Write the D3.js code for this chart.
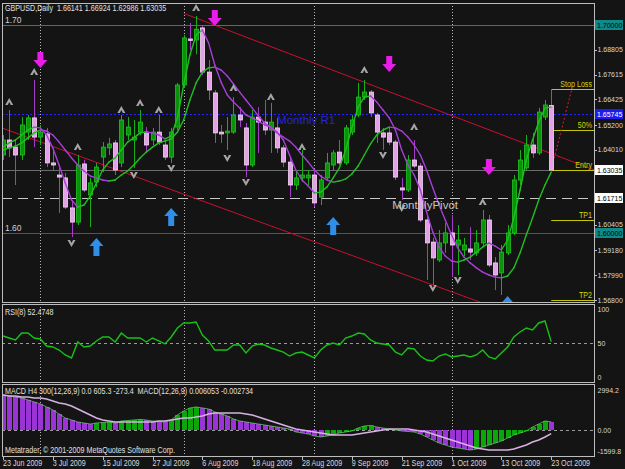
<!DOCTYPE html>
<html>
<head>
<meta charset="utf-8">
<script src="https://d3js.org/d3.v7.min.js"></script>
<style>
  body { margin: 0; background: #141414; }
  text { font-family: "Liberation Sans", Arial, sans-serif; }
</style>
</head>
<body>
<script>
// ---------- data ----------
// trading days, month by month
const monthDays = [
    ["2009-06", [23,24,25,26,29,30]],
    ["2009-07", [1,2,3,6,7,8,9,10,13,14,15,16,17,20,21,22,23,24,27,28,29,30,31]],
    ["2009-08", [3,4,5,6,7,10,11,12,13,14,17,18,19,20,21,24,25,26,27,28,31]],
    ["2009-09", [1,2,3,4,7,8,9,10,11,14,15,16,17,18,21,22,23,24,25,28,29,30]],
    ["2009-10", [1,2,5,6,7,8,9,12,13,14,15,16,19,20,21,22,23]]
];
const dates = monthDays.flatMap(([m, days]) => days.map(d => m + "-" + String(d).padStart(2, "0")));

const opens = [1.6376,1.6448,1.6414,1.6376,1.6486,1.6554,1.6462,1.6477,1.6338,1.6280,
    1.6266,1.6122,1.6054,1.6333,1.6184,1.6246,1.6366,1.6410,1.6434,1.6338,
    1.6472,1.6448,1.6486,1.6486,1.6448,1.6486,1.6424,1.6366,1.6510,1.6712,
    1.6933,1.6928,1.6986,1.6774,1.6674,1.6486,1.6482,1.6486,1.6568,1.6506,
    1.6328,1.6558,1.6534,1.6496,1.6506,1.6410,1.6342,1.6232,1.6266,1.6266,
    1.6280,1.6174,1.6266,1.6328,1.6390,1.6338,1.6486,1.6568,1.6654,1.6678,
    1.6568,1.6482,1.6482,1.6438,1.6218,1.6208,1.6352,1.6323,1.6064,1.5958,
    1.5872,1.5954,1.6002,1.5944,1.5920,1.5925,1.5906,1.5954,1.6064,1.5858,
    1.5810,1.5906,1.6002,1.6256,1.6314,1.6424,1.6386,1.6558,1.66141];
const highs = [1.6472,1.6592,1.6448,1.6558,1.6568,1.6736,1.6520,1.6506,1.6400,1.6318,
    1.6290,1.6160,1.6376,1.6352,1.6266,1.6338,1.6438,1.6458,1.6448,1.6568,
    1.6558,1.6544,1.6592,1.6510,1.6506,1.6568,1.6448,1.6506,1.6722,1.6952,
    1.7010,1.7043,1.7000,1.6832,1.6688,1.6520,1.6558,1.6654,1.6606,1.6530,
    1.6592,1.6606,1.6640,1.6626,1.6554,1.6424,1.6366,1.6304,1.6400,1.6304,
    1.6304,1.6280,1.6386,1.6400,1.6448,1.6520,1.6568,1.6722,1.6736,1.6688,
    1.6578,1.6506,1.6510,1.6448,1.6266,1.6376,1.6448,1.6338,1.6088,1.5978,
    1.6016,1.6050,1.6088,1.6040,1.5978,1.6030,1.6016,1.6112,1.6088,1.5886,
    1.5944,1.6040,1.6280,1.6400,1.6472,1.6482,1.6602,1.6640,1.66924];
const lows = [1.6352,1.6366,1.6232,1.6352,1.6448,1.6414,1.6424,1.6318,1.6304,1.6098,
    1.6117,1.5982,1.6040,1.6198,1.6030,1.6222,1.6294,1.6376,1.6280,1.6318,
    1.6448,1.6314,1.6472,1.6386,1.6424,1.6424,1.6352,1.6338,1.6496,1.6698,
    1.6880,1.6860,1.6760,1.6640,1.6434,1.6434,1.6400,1.6477,1.6510,1.6270,
    1.6318,1.6386,1.6472,1.6386,1.6386,1.6318,1.6174,1.6208,1.6246,1.6232,
    1.6126,1.6136,1.6256,1.6304,1.6328,1.6328,1.6472,1.6558,1.6640,1.6558,
    1.6434,1.6400,1.6424,1.6256,1.6160,1.6198,1.6314,1.6054,1.5776,1.5752,
    1.5862,1.5906,1.5790,1.5800,1.5891,1.5872,1.5891,1.5939,1.5838,1.5728,
    1.5704,1.5896,1.5992,1.6232,1.6304,1.6362,1.6376,1.6544,1.62986];
const closes = [1.6448,1.6410,1.6376,1.6520,1.6554,1.6462,1.6486,1.6338,1.6328,1.6270,
    1.6126,1.6054,1.6328,1.6208,1.6242,1.6318,1.6414,1.6429,1.6304,1.6544,
    1.6510,1.6462,1.6534,1.6424,1.6486,1.6438,1.6366,1.6486,1.6712,1.6938,
    1.6928,1.6980,1.6774,1.6688,1.6482,1.6477,1.6491,1.6568,1.6544,1.6328,
    1.6558,1.6534,1.6496,1.6534,1.6410,1.6342,1.6232,1.6266,1.6280,1.6280,
    1.6146,1.6256,1.6338,1.6386,1.6338,1.6506,1.6544,1.6654,1.6678,1.6578,
    1.6486,1.6462,1.6438,1.6270,1.6208,1.6352,1.6323,1.6064,1.5954,1.5882,
    1.5954,1.6002,1.5944,1.5968,1.5944,1.5910,1.5954,1.6064,1.5848,1.5800,
    1.5910,1.6002,1.6256,1.6352,1.6424,1.6386,1.6582,1.6616,1.63035];

// two moving averages, coloured by slope
const fastMA = [1.6414,1.6434,1.6448,1.6472,1.6496,1.6510,1.6506,1.6472,1.6410,1.6328,
    1.6242,1.6160,1.6126,1.6136,1.6179,1.6242,1.6304,1.6342,1.6362,1.6400,
    1.6438,1.6458,1.6482,1.6486,1.6482,1.6472,1.6453,1.6467,1.6554,1.6712,
    1.6856,1.6952,1.6976,1.6914,1.6808,1.6726,1.6664,1.6630,1.6602,1.6568,
    1.6554,1.6539,1.6520,1.6510,1.6486,1.6448,1.6376,1.6304,1.6256,1.6227,
    1.6194,1.6198,1.6222,1.6266,1.6314,1.6400,1.6506,1.6606,1.6654,1.6659,
    1.6630,1.6592,1.6554,1.6496,1.6400,1.6328,1.6280,1.6208,1.6102,1.6006,
    1.5934,1.5891,1.5867,1.5862,1.5872,1.5886,1.5910,1.5934,1.5954,1.5939,
    1.5920,1.5968,1.6074,1.6208,1.6352,1.6448,1.6534,1.6602,1.6606];
const slowMA = [1.6400,1.6410,1.6419,1.6434,1.6458,1.6482,1.6496,1.6491,1.6472,1.6438,
    1.6400,1.6362,1.6328,1.6299,1.6275,1.6266,1.6256,1.6251,1.6256,1.6280,
    1.6299,1.6328,1.6362,1.6390,1.6414,1.6434,1.6443,1.6453,1.6486,1.6544,
    1.6640,1.6722,1.6774,1.6794,1.6798,1.6784,1.6755,1.6717,1.6678,1.6640,
    1.6602,1.6563,1.6530,1.6506,1.6482,1.6462,1.6443,1.6414,1.6376,1.6342,
    1.6304,1.6275,1.6256,1.6246,1.6251,1.6261,1.6285,1.6323,1.6376,1.6429,
    1.6472,1.6496,1.6510,1.6506,1.6491,1.6462,1.6424,1.6376,1.6304,1.6218,
    1.6136,1.6064,1.5992,1.5930,1.5886,1.5858,1.5834,1.5814,1.5800,1.5790,
    1.5786,1.5795,1.5834,1.5906,1.5992,1.6074,1.6160,1.6232,1.6294];

const rsi8 = [60.7,57.8,54.9,65.1,65.1,57.8,56.3,46.0,44.6,40.1,
    32.8,28.4,51.9,44.6,46.0,53.4,59.3,59.3,51.9,65.1,
    57.8,57.8,57.8,51.9,57.8,53.4,49.0,59.3,72.5,79.9,
    79.9,81.3,62.2,53.4,40.1,40.1,40.1,47.5,47.5,35.7,
    46.0,49.0,47.5,43.1,40.1,37.1,31.3,35.7,37.1,32.8,
    28.4,40.1,47.5,50.4,47.5,57.8,60.7,65.1,63.7,54.9,
    50.4,49.0,47.5,37.1,32.8,43.1,41.6,31.3,25.4,24.0,
    31.3,34.3,29.9,31.3,32.8,29.9,32.8,40.1,29.9,27.0,
    35.7,44.6,59.3,66.6,72.5,69.6,79.9,82.8,52.4748];

const macdHist = [2625,2550,2475,2400,2250,2100,1950,1725,1500,1200,
    900,750,600,525,450,525,560,600,525,675,
    710,750,790,750,675,640,600,750,1125,1425,
    1650,1725,1650,1575,1350,1200,1050,825,675,600,
    525,450,375,300,225,150,75,-150,-225,-300,
    -450,-525,-450,-375,-225,-150,-75,150,300,340,
    225,150,75,0,-75,-110,-150,-300,-525,-750,
    -975,-1125,-1275,-1350,-1425,-1500,-1425,-1275,-1125,-975,
    -825,-600,-375,-225,-75,225,450,675,605.3];
const macdSignal = [2622,2547,2547,2472,2472,2397,2397,2322,2172,2022,
    1947,1798,1573,1348,1124,899,749,674,599,599,
    599,599,599,599,599,674,674,749,824,899,
    899,974,1049,1198,1273,1273,1273,1273,1273,1198,
    1124,974,824,674,524,375,225,75,0,-75,
    -150,-225,-300,-375,-375,-375,-375,-300,-225,-150,
    -75,0,75,75,75,75,0,-75,-150,-300,
    -449,-599,-749,-899,-1049,-1198,-1348,-1423,-1498,-1498,
    -1498,-1498,-1423,-1273,-1124,-899,-749,-524,-273.4];

const tickDates = ["2009-06-23","2009-07-03","2009-07-15","2009-07-27","2009-08-06","2009-08-18",
    "2009-08-28","2009-09-09","2009-09-21","2009-10-01","2009-10-13","2009-10-23"];
const tickLabels = ["23 Jun 2009","3 Jul 2009","15 Jul 2009","27 Jul 2009","6 Aug 2009","18 Aug 2009",
    "28 Aug 2009","9 Sep 2009","21 Sep 2009","1 Oct 2009","13 Oct 2009","23 Oct 2009"];
const monthStarts = ["2009-07-01","2009-08-03","2009-09-01","2009-10-01"];
const priceTicks = [1.68805,1.67615,1.66425,1.65200,1.64010,1.60405,1.59180,1.57990,1.56800];

// marked levels and objects
const markedLevels = [
    {price: 1.70,    label: "1.70000", line: "#0e8a8a", dash: null,   bg: "#10898a", fg: "#000"},
    {price: 1.65745, label: "1.65745", line: "#2222ff", dash: "2,2",  bg: "#1c1cf0", fg: "#fff"},
    {price: 1.63035, label: "1.63035", line: "#6c6c6c", dash: null,   bg: "#ffffff", fg: "#000"},
    {price: 1.61715, label: "1.61715", line: "#c8c8c8", dash: "10,6", bg: "#ffffff", fg: "#000"},
    {price: 1.60,    label: "1.60000", line: "#0d6f8c", dash: null,   bg: "#10898a", fg: "#000"}
];
const tradeLevels = [
    {name: "Stop Loss", price: 1.66924},
    {name: "50%",       price: 1.64980},
    {name: "Entry",     price: 1.63035},
    {name: "TP1",       price: 1.60630},
    {name: "TP2",       price: 1.56800}
];
const trendUpper = [{date: "2009-08-03", price: 1.7056}, {date: "2009-10-23", price: 1.6383}];
const trendLower = [{date: "2009-06-23", price: 1.6504}, {date: "2009-10-06", price: 1.5687}];
const fibLine = [{pos: 88, price: 1.63035}, {pos: 91.3, price: 1.66924}];

const sellArrows = [{date: "2009-07-01", price: 1.6794}, {date: "2009-08-10", price: 1.6995},
    {date: "2009-09-17", price: 1.6774}, {date: "2009-10-09", price: 1.6280}];
const buyArrows = [{date: "2009-07-14", price: 1.5978}, {date: "2009-07-30", price: 1.6122},
    {date: "2009-09-04", price: 1.6078}, {date: "2009-10-14", price: 1.5699}];
const upFractals = [["2009-06-24",1.6630],["2009-06-30",1.6774],["2009-07-09",1.6414],["2009-07-20",1.6592],
    ["2009-07-23",1.6626],["2009-07-28",1.6592],["2009-08-05",1.7082],["2009-08-13",1.6698],
    ["2009-08-21",1.6654],["2009-08-28",1.6414],["2009-09-11",1.6784],["2009-09-23",1.6510],["2009-10-08",1.6150]];
const downFractals = [["2009-07-08",1.5954],["2009-07-22",1.6280],["2009-07-30",1.6314],["2009-08-12",1.6362],
    ["2009-08-17",1.6246],["2009-09-16",1.6376],["2009-09-21",1.6122],["2009-09-28",1.5738],["2009-10-02",1.5776]];

// ---------- layout ----------
let width = 625, height = 469;
let left = 2, right = 594;
let mainTop = 3, mainBottom = 302, rsiTop = 304, rsiBottom = 382, macdTop = 384, macdBottom = 456;

const bg = "#141414", axisText = "#d8d8d8", frame = "#bdbdbd";
const green = "#1fbf1f", purple = "#a53fd6";
const fs = 8.5, axisFs = 7;

let x = d3.scaleLinear().domain([0, dates.length - 1]).range([3, 551.2]);
let y = d3.scaleLinear().domain([1.568, 1.70]).range([300, 25]);
let yRsi = d3.scaleLinear().domain([0, 100]).range([377.3, 309.3]);
let yMacd = d3.scaleLinear().domain([0, 2994.2]).range([430, 390]);
const xd = d => x(dates.indexOf(d));
const px = v => Math.round(v) + 0.5;

// squeeze small texts horizontally (the original UI font is narrow)
function condense(sel, k = 0.84) {
    sel.each(function() {
        let len = this.getComputedTextLength();
        d3.select(this).attr("textLength", len * k).attr("lengthAdjust", "spacingAndGlyphs");
    });
}

let svg = d3.select("body").append("svg")
    .attr("width", width).attr("height", height)
    .style("display", "block");
svg.append("rect").attr("width", width).attr("height", height).attr("fill", bg);

let defs = svg.append("defs");
[["clipMain", mainTop, mainBottom], ["clipRsi", rsiTop, rsiBottom], ["clipMacd", macdTop, macdBottom]]
    .forEach(([id, t, b]) => defs.append("clipPath").attr("id", id)
        .append("rect").attr("x", left).attr("y", t).attr("width", right - left).attr("height", b - t));

function separators(g, t, b) {
    g.selectAll("line.sep").data(monthStarts).join("line")
        .attr("x1", d => px(xd(d))).attr("x2", d => px(xd(d)))
        .attr("y1", t).attr("y2", b)
        .attr("stroke", "#b8b8b8").attr("stroke-dasharray", "1,2");
}

function slopeSegments(g, values, yScale) {
    let segs = d3.range(1, values.length).map(i => [i - 1, i]);
    g.selectAll(null).data(segs).join("line")
        .attr("x1", s => x(s[0])).attr("y1", s => yScale(values[s[0]]))
        .attr("x2", s => x(s[1])).attr("y2", s => yScale(values[s[1]]))
        .attr("stroke", s => values[s[1]] >= values[s[0]] ? green : purple)
        .attr("stroke-width", 1.4).attr("stroke-linecap", "round");
}

function drawMain() {
    let g = svg.append("g").attr("clip-path", "url(#clipMain)");
    separators(g, mainTop, mainBottom);

    // horizontal levels
    g.selectAll("line.level").data(markedLevels).join("line")
        .attr("x1", left).attr("x2", right)
        .attr("y1", d => px(y(d.price))).attr("y2", d => px(y(d.price)))
        .attr("stroke", d => d.line).attr("stroke-dasharray", d => d.dash);

    // channel trend lines, extended as rays
    [trendUpper, trendLower].forEach(t => {
        let i0 = dates.indexOf(t[0].date), i1 = dates.indexOf(t[1].date);
        let slope = (t[1].price - t[0].price) / (i1 - i0);
        let iEnd = x.invert(right);
        g.append("line")
            .attr("x1", x(i0)).attr("y1", y(t[0].price))
            .attr("x2", x(iEnd)).attr("y2", y(t[0].price + slope * (iEnd - i0)))
            .attr("stroke", "#c8102e").attr("stroke-width", 1);
    });

    // trade levels (right of the last bar)
    let last = dates.length - 1;
    g.selectAll("line.trade").data(tradeLevels).join("line")
        .attr("x1", x(last)).attr("x2", right)
        .attr("y1", d => px(y(d.price))).attr("y2", d => px(y(d.price)))
        .attr("stroke", "#c8c800");
    g.append("line")
        .attr("x1", x(fibLine[0].pos)).attr("y1", y(fibLine[0].price))
        .attr("x2", x(fibLine[1].pos)).attr("y2", y(fibLine[1].price))
        .attr("stroke", "#d0203a").attr("stroke-dasharray", "2,2");

    // candles
    let bars = d3.range(dates.length);
    const up = i => closes[i] >= opens[i];
    g.selectAll("line.wick").data(bars).join("line")
        .attr("x1", i => px(x(i))).attr("x2", i => px(x(i)))
        .attr("y1", i => y(highs[i])).attr("y2", i => y(lows[i]))
        .attr("stroke", i => up(i) ? "#16b016" : "#a43cc8");
    g.selectAll("rect.body").data(bars).join("rect")
        .attr("x", i => Math.round(x(i)) - 1.5).attr("width", 4)
        .attr("y", i => y(Math.max(opens[i], closes[i])))
        .attr("height", i => Math.max(1.5, Math.abs(y(opens[i]) - y(closes[i]))))
        .attr("fill", i => up(i) ? "#0a930a" : "#e4a2e6")
        .attr("stroke", i => up(i) ? "#22c322" : "#f6d6f6")
        .attr("stroke-width", 0.8);

    // moving averages
    slopeSegments(g.append("g"), slowMA, y);
    slopeSegments(g.append("g"), fastMA, y);

    // fractals
    g.selectAll("path.fu").data(upFractals).join("path")
        .attr("transform", d => `translate(${xd(d[0])},${y(d[1])})`)
        .attr("d", "M0,-4L4,3L1.5,3L0,0L-1.5,3L-4,3Z").attr("fill", "#a6a6a6");
    g.selectAll("path.fd").data(downFractals).join("path")
        .attr("transform", d => `translate(${xd(d[0])},${y(d[1])})`)
        .attr("d", "M0,4L4,-3L1.5,-3L0,0L-1.5,-3L-4,-3Z").attr("fill", "#a6a6a6");

    // signal arrows (tip at the price)
    g.selectAll("path.sell").data(sellArrows).join("path")
        .attr("transform", d => `translate(${xd(d.date)},${y(d.price)})`)
        .attr("d", "M-3,-16L3,-16L3,-8L7,-8L0,0L-7,-8L-3,-8Z").attr("fill", "#e81ee8");
    g.selectAll("path.buy").data(buyArrows).join("path")
        .attr("transform", d => `translate(${xd(d.date)},${y(d.price)})`)
        .attr("d", "M-3,18L3,18L3,8L7,8L0,0L-7,8L-3,8Z").attr("fill", "#2f8fe8");

    // texts
    g.append("text").attr("x", 5).attr("y", y(1.70) - 2).attr("fill", "#cfcfcf")
        .attr("font-size", fs).text("1.70");
    g.append("text").attr("x", 5).attr("y", y(1.60) - 2).attr("fill", "#cfcfcf")
        .attr("font-size", fs).text("1.60");
    g.append("text").attr("x", xd("2009-08-24")).attr("y", y(1.65745) + 10).attr("fill", "#2424d8")
        .attr("font-size", 11.5).text("Monthly R1");
    g.append("text").attr("x", xd("2009-09-23") - 22).attr("y", y(1.61715) + 11).attr("fill", "#c4c4c4")
        .attr("font-size", 11.5).text("MonthlyPivot");
    g.selectAll("text.trade").data(tradeLevels).join("text")
        .attr("x", right - 2).attr("y", d => y(d.price) - 2)
        .attr("text-anchor", "end").attr("fill", "#d4d400").attr("font-size", fs)
        .text(d => d.name).call(condense);
    g.append("text").attr("x", 5).attr("y", 11).attr("fill", "#e0e0e0").attr("font-size", fs)
        .attr("xml:space", "preserve")
        .text("GBPUSD,Daily  1.66141 1.66924 1.62986 1.63035").call(condense);

    // right price axis
    let a = svg.append("g");
    a.selectAll("line.tk").data(priceTicks).join("line")
        .attr("x1", right).attr("x2", right + 3)
        .attr("y1", d => px(y(d))).attr("y2", d => px(y(d))).attr("stroke", frame);
    a.selectAll("text.tk").data(priceTicks).join("text")
        .attr("x", right + 3.5).attr("y", d => y(d) + 2.5)
        .attr("fill", axisText).attr("font-size", axisFs).text(d => d.toFixed(5));
    let boxes = a.selectAll("g.box").data(markedLevels).join("g")
        .attr("transform", d => `translate(${right + 1},${Math.round(y(d.price))})`);
    boxes.append("rect").attr("x", 0).attr("y", -5).attr("width", 28).attr("height", 10)
        .attr("fill", d => d.bg);
    boxes.append("text").attr("x", 2).attr("y", 2.5).attr("fill", d => d.fg)
        .attr("font-size", axisFs).text(d => d.label);
}

function drawRsi() {
    let g = svg.append("g").attr("clip-path", "url(#clipRsi)");
    separators(g, rsiTop, rsiBottom);
    g.append("line").attr("x1", left).attr("x2", right)
        .attr("y1", px(yRsi(50))).attr("y2", px(yRsi(50)))
        .attr("stroke", "#9a9a9a").attr("stroke-dasharray", "3,3");
    g.append("path").datum(rsi8)
        .attr("d", d3.line().x((d, i) => x(i)).y(d => yRsi(d)))
        .attr("fill", "none").attr("stroke", "#18c018").attr("stroke-width", 1.4);
    g.append("text").attr("x", 5).attr("y", 315).attr("fill", "#e0e0e0").attr("font-size", fs)
        .text("RSI(8) 52.4748").call(condense);
    svg.selectAll("text.rsiTick").data([100, 50, 0]).join("text")
        .attr("x", right + 3.5).attr("y", d => yRsi(d) + 2.5)
        .attr("fill", axisText).attr("font-size", axisFs).text(d => d);
}

function drawMacd() {
    let g = svg.append("g").attr("clip-path", "url(#clipMacd)");
    separators(g, macdTop, macdBottom);
    g.append("line").attr("x1", left).attr("x2", right + 30)
        .attr("y1", px(yMacd(0))).attr("y2", px(yMacd(0)))
        .attr("stroke", "#9a9a9a").attr("stroke-dasharray", "3,3");
    let bars = d3.range(dates.length);
    const rising = i => i > 0 && macdHist[i] >= macdHist[i - 1];
    g.selectAll("rect.hist").data(bars).join("rect")
        .attr("x", i => Math.round(x(i)) - 2).attr("width", 5)
        .attr("y", i => Math.min(yMacd(0), yMacd(macdHist[i])))
        .attr("height", i => Math.abs(yMacd(0) - yMacd(macdHist[i])))
        .attr("fill", i => rising(i) ? "#0aa60a" : "#9b34d6");
    g.append("path").datum(macdHist)
        .attr("d", d3.line().x((d, i) => x(i)).y(d => yMacd(d)))
        .attr("fill", "none").attr("stroke", "#62c262").attr("stroke-width", 0.8);
    g.append("path").datum(macdSignal)
        .attr("d", d3.line().x((d, i) => x(i)).y(d => yMacd(d)))
        .attr("fill", "none").attr("stroke", "#d6b2e2").attr("stroke-width", 1.5);
    g.append("text").attr("x", 5).attr("y", 394).attr("fill", "#e0e0e0").attr("font-size", fs)
        .attr("xml:space", "preserve")
        .text("MACD H4 300(12,26,9) 0.0 605.3 -273.4  MACD(12,26,9) 0.006053 -0.002734").call(condense);
    g.append("text").attr("x", 5).attr("y", 453).attr("fill", "#e0e0e0").attr("font-size", fs)
        .text("Metatrader, © 2001-2009 MetaQuotes Software Corp.").call(condense);
    svg.selectAll("text.macdTick").data([2994.2, 0, -1599.8]).join("text")
        .attr("x", right + 3.5).attr("y", d => yMacd(d) + 2.5)
        .attr("fill", axisText).attr("font-size", axisFs)
        .text(d => d === 0 ? "0.00" : d.toFixed(1));
}

function drawFrames() {
    [[mainTop, mainBottom], [rsiTop, rsiBottom], [macdTop, macdBottom]].forEach(([t, b]) =>
        svg.append("rect").attr("x", left + 0.5).attr("y", t + 0.5)
            .attr("width", right - left).attr("height", b - t)
            .attr("fill", "none").attr("stroke", frame));
    // date axis
    svg.selectAll("line.dt").data(tickDates).join("line")
        .attr("x1", d => px(xd(d))).attr("x2", d => px(xd(d)))
        .attr("y1", macdBottom).attr("y2", macdBottom + 4).attr("stroke", frame);
    svg.selectAll("text.dt").data(tickDates).join("text")
        .attr("x", d => xd(d)).attr("y", 466)
        .attr("fill", axisText).attr("font-size", fs)
        .text((d, i) => tickLabels[i]).call(condense);
}

drawMain();
drawRsi();
drawMacd();
drawFrames();
</script>
</body>
</html>
